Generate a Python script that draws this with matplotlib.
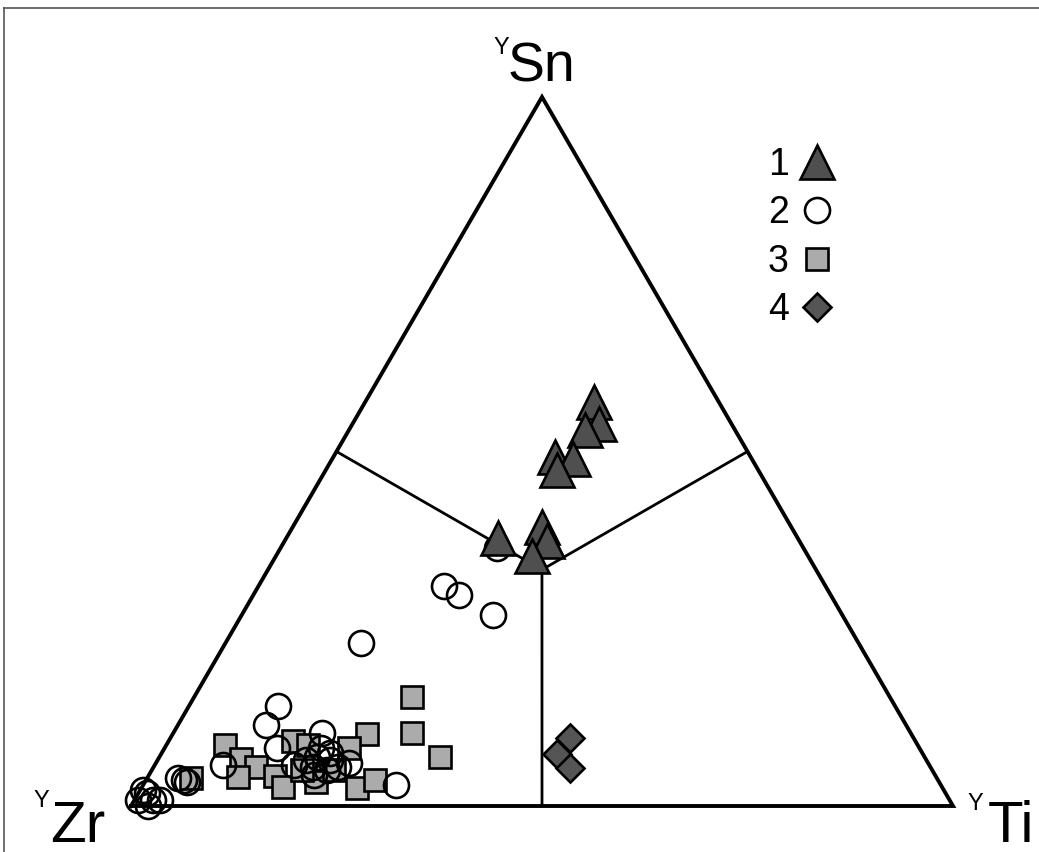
import numpy as np
import matplotlib
matplotlib.use("Agg")
import matplotlib.pyplot as plt

# ---------------- data: compositions in % (Sn, Ti, Zr) ----------------
g1_sn = [57.0, 53.9, 53.0, 49.2, 48.9, 47.4, 37.8, 39.4, 37.4, 35.3]
g1_ti = [27.8, 30.0, 28.7, 27.0, 29.3, 28.1, 25.7, 30.3, 31.9, 31.1]
g1_zr = [15.2, 16.1, 18.3, 23.8, 21.8, 24.5, 36.5, 30.3, 30.7, 33.6]

g2_sn = [36.4, 31.0, 29.8, 26.9, 23.0, 14.1, 11.4, 8.2, 10.3, 5.8, 3.0, 3.9, 3.4, 3.7,
         1.8, 2.3, 0.8, 0.8, 0.0, 0.8, 6.9, 6.5, 5.1, 5.5, 5.5, 8.2, 6.5, 7.5, 4.4, 6.0, 5.8]
g2_ti = [26.3, 22.6, 25.0, 30.6, 16.5, 10.8, 10.7, 13.7, 18.1, 8.3, 30.7, 3.8, 5.1, 4.6,
         1.1, 0.3, 2.3, 0.4, 2.1, 3.1, 19.2, 21.0, 21.3, 19.4, 22.4, 19.0, 18.0, 20.4, 20.1, 23.5, 16.9]
g2_zr = [37.3, 46.4, 45.2, 42.5, 60.5, 75.1, 77.9, 78.1, 71.6, 85.9, 66.3, 92.3, 91.5, 91.7,
         97.1, 97.4, 96.9, 98.8, 97.9, 96.1, 73.9, 72.5, 73.6, 75.1, 72.1, 72.8, 75.5, 72.1, 75.5, 70.5, 77.3]

g3_sn = [15.4, 10.3, 6.9, 8.6, 6.6, 5.5, 4.1, 4.2, 2.7, 9.2, 10.2, 8.2, 2.5, 3.7, 3.4, 5.1, 3.9, 5.1, 8.6]
g3_ti = [26.5, 29.0, 34.1, 7.1, 10.1, 12.4, 11.0, 15.4, 17.1, 15.1, 23.6, 22.4, 26.3, 27.8, 20.8, 18.2, 5.4, 22.2, 17.2]
g3_zr = [58.1, 60.7, 59.0, 84.3, 83.3, 82.1, 84.9, 80.4, 80.2, 75.7, 66.2, 69.4, 71.2, 68.5, 75.8, 76.7, 90.7, 72.7, 74.2]

g4_sn = [9.6, 7.3, 5.4]
g4_ti = [48.6, 48.2, 50.7]
g4_zr = [41.8, 44.5, 43.9]

# field boundaries: edge midpoints to centroid (Sn, Ti, Zr)
bound_sn = [[50, 33.33], [50, 33.33], [0, 33.33]]
bound_ti = [[0, 33.33], [50, 33.33], [50, 33.33]]
bound_zr = [[50, 33.34], [0, 33.34], [50, 33.34]]

legend_labels = ["1", "2", "3", "4"]

# ---------------- helpers ----------------
S3 = np.sqrt(3) / 2


def tern(sn, ti, zr):
    sn, ti, zr = (np.asarray(v, float) for v in (sn, ti, zr))
    tot = sn + ti + zr
    return (ti + sn / 2) / tot, sn / tot * S3


W, H = 1039, 852
fig = plt.figure(figsize=(W / 100, H / 100), dpi=100)
ax = fig.add_axes([0, 0, 1, 1])
kx = 822.0
ky = 709.0 / S3
ax.set_xlim(-131 / kx, (W - 131) / kx)
ax.set_ylim(-(H - 806) / ky, 806 / ky)
ax.axis("off")

lab_font = "Liberation Sans"

# triangle outline
tx, ty = tern([0, 0, 100, 0], [0, 100, 0, 0], [100, 0, 0, 100])
ax.plot(tx, ty, color="black", lw=2.8, solid_joinstyle="miter", zorder=2)
for bs, bt, bz in zip(bound_sn, bound_ti, bound_zr):
    bx, by = tern(bs, bt, bz)
    ax.plot(bx, by, color="black", lw=2.0, zorder=2)

mew = 1.9
x3, y3 = tern(g3_sn, g3_ti, g3_zr)
h3, = ax.plot(x3, y3, ls="none", marker="s", ms=16, mfc="#ababab", mec="black", mew=mew, zorder=3)
x2, y2 = tern(g2_sn, g2_ti, g2_zr)
h2, = ax.plot(x2, y2, ls="none", marker="o", ms=18, mfc="none", mec="black", mew=mew, zorder=4)
x1, y1 = tern(g1_sn, g1_ti, g1_zr)
h1, = ax.plot(x1, y1, ls="none", marker="^", ms=24, mfc="#4f4f4f", mec="black", mew=mew, zorder=5)
x4, y4 = tern(g4_sn, g4_ti, g4_zr)
h4, = ax.plot(x4, y4, ls="none", marker="D", ms=14.5, mfc="#555555", mec="black", mew=mew, zorder=5)

ax.legend([h1, h2, h3, h4], legend_labels, loc="upper left",
          bbox_to_anchor=(768 / W, 1 - 147 / H), bbox_transform=fig.transFigure,
          markerfirst=False, frameon=False, prop={"family": "Liberation Sans", "size": 27},
          handlelength=1.0, handletextpad=0.25, labelspacing=0.33, borderpad=0, borderaxespad=0,
          numpoints=1)


def ftext(px, py, s, size, **kw):
    fig.text(px / W, 1 - py / H, s, fontsize=size, family=lab_font, va="baseline", ha="left", **kw)


ftext(508, 82, "Sn", 40)
ftext(494, 54, "Y", 17)
ftext(50, 842, "Zr", 42)
ftext(34, 807, "Y", 17)
ftext(988, 842, "Ti", 42)
ftext(967, 810, "Y", 17)

# image frame (top and left edges)
fig.add_artist(plt.Line2D([4 / W, 1], [1 - 8 / H, 1 - 8 / H], transform=fig.transFigure, color="#555555", lw=1.2))
fig.add_artist(plt.Line2D([4 / W, 4 / W], [0, 1 - 8 / H], transform=fig.transFigure, color="#555555", lw=1.2))

fig.savefig("out.png", dpi=100, facecolor="white")
